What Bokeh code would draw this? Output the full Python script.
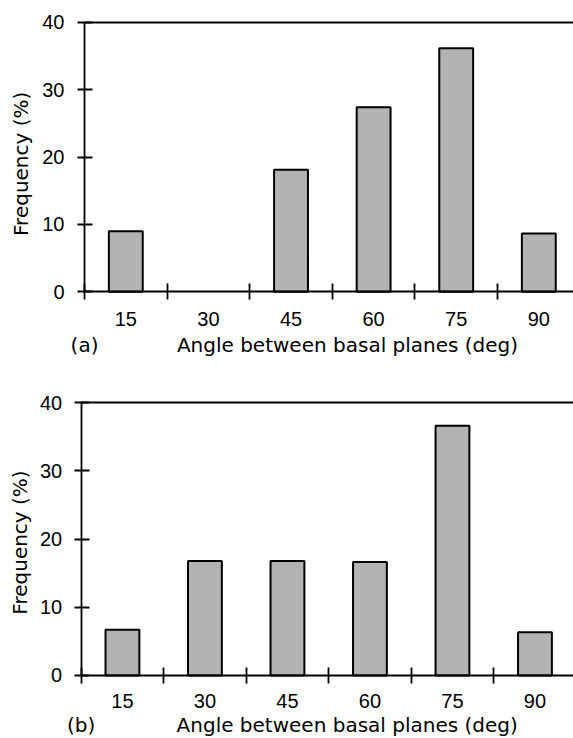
import math
from bokeh.plotting import figure
from bokeh.models import Range1d, LinearAxis, FixedTicker, Label, ColumnDataSource
from bokeh.layouts import column
from bokeh.embed import file_html
from bokeh.resources import INLINE

# ---- data ----
categories = ["15", "30", "45", "60", "75", "90"]
freq_a = [9.0, 0.0, 18.1, 27.4, 36.15, 8.65]
freq_b = [6.7, 16.8, 16.8, 16.65, 36.65, 6.35]
y_ticks = [0, 10, 20, 30, 40]
x_title = "Angle between basal planes (deg)"
y_title = "Frequency (%)"
panel_tags = ["(a)", "(b)"]

TICK_FONT = "Liberation Sans"
TITLE_FONT = "DejaVu Sans"
LW = 1.8


def make_panel(values, tag, width, height, xr, yr, y_standoff, x_standoff,
               ytitle_xy, xtitle_xy, tag_xy):
    n = len(categories)
    centers = [i + 0.5 for i in range(n)]
    bounds = [float(i) for i in range(n)]
    x_end = xr[1]
    # zero-frequency classes have no bar
    keep = [i for i in range(n) if values[i] > 0]
    src = ColumnDataSource(dict(x=[centers[i] for i in keep],
                                top=[values[i] for i in keep],
                                cat=[categories[i] for i in keep]))

    p = figure(width=width, height=height,
               x_range=Range1d(*xr), y_range=Range1d(*yr),
               output_backend="svg", toolbar_location=None,
               x_axis_type=None, y_axis_type=None,
               min_border=0, min_border_left=0, min_border_right=0,
               min_border_top=0, min_border_bottom=0)
    p.outline_line_color = None
    p.background_fill_color = "white"
    p.border_fill_color = "white"

    p.vbar(x="x", top="top", bottom=0, width=0.41, source=src,
           fill_color="#b3b3b3", line_color="black", line_width=2)

    # left axis, drawn at x = 0
    ya = LinearAxis(ticker=FixedTicker(ticks=y_ticks, minor_ticks=[]),
                    fixed_location=0, bounds=(0, 40))
    ya.axis_line_width = LW
    ya.major_tick_line_width = LW
    ya.major_tick_in = 8
    ya.major_tick_out = 7
    ya.minor_tick_line_color = None
    ya.major_label_standoff = y_standoff
    ya.major_label_text_font = TICK_FONT
    ya.major_label_text_font_size = "20px"
    ya.major_label_text_color = "black"
    p.add_layout(ya, "left")

    # bottom axis at y = 0: labels at category centres, ticks at boundaries
    xa = LinearAxis(ticker=FixedTicker(ticks=centers, minor_ticks=bounds),
                    fixed_location=0, bounds=(0, x_end))
    xa.axis_line_width = LW
    xa.major_tick_in = 0
    xa.major_tick_out = 0
    xa.major_tick_line_color = None
    xa.minor_tick_in = 8
    xa.minor_tick_out = 8
    xa.minor_tick_line_width = LW
    xa.minor_tick_line_color = "black"
    xa.major_label_overrides = {c: lab for c, lab in zip(centers, categories)}
    xa.major_label_standoff = x_standoff
    xa.major_label_text_font = TICK_FONT
    xa.major_label_text_font_size = "20px"
    xa.major_label_text_color = "black"
    p.add_layout(xa, "below")

    # top border line at y = 40
    ta = LinearAxis(ticker=FixedTicker(ticks=[], minor_ticks=[]),
                    fixed_location=40, bounds=(0, x_end))
    ta.axis_line_width = LW
    ta.major_tick_in = 0
    ta.major_tick_out = 0
    ta.minor_tick_in = 0
    ta.minor_tick_out = 0
    ta.major_label_text_font_size = "0px"
    p.add_layout(ta, "above")

    p.add_layout(Label(x=ytitle_xy[0], y=ytitle_xy[1], text=y_title,
                       angle=math.pi / 2, text_align="center",
                       text_baseline="middle", text_font=TITLE_FONT,
                       text_font_size="20px", text_color="black"))
    p.add_layout(Label(x=xtitle_xy[0], y=xtitle_xy[1], text=x_title,
                       text_align="center", text_baseline="middle",
                       text_font=TITLE_FONT, text_font_size="20px",
                       text_color="black"))
    p.add_layout(Label(x=tag_xy[0], y=tag_xy[1], text=tag,
                       text_align="center", text_baseline="middle",
                       text_font=TITLE_FONT, text_font_size="20px",
                       text_color="black"))
    return p


pa = make_panel(freq_a, panel_tags[0], width=573, height=372,
                xr=(-1.017, 5.920), yr=(-11.963, 43.229),
                y_standoff=13, x_standoff=12,
                ytitle_xy=(-0.763, 19.0), xtitle_xy=(3.184, -7.85),
                tag_xy=(0.0, -7.85))
pb = make_panel(freq_b, panel_tags[1], width=573, height=366,
                xr=(-0.978, 5.967), yr=(-9.241, 44.444),
                y_standoff=12, x_standoff=11,
                ytitle_xy=(-0.742, 19.51), xtitle_xy=(3.224, -7.19),
                tag_xy=(0.0, -7.19))

layout = column(pa, pb, spacing=0)
open("out.html", "w").write(file_html(layout, INLINE))
